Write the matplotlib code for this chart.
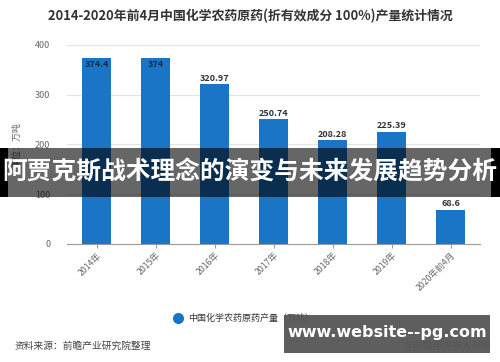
import matplotlib.pyplot as plt
from matplotlib.patches import Rectangle

plt.rcParams['font.family'] = ['Noto Sans CJK SC', 'DejaVu Sans']

years = ['2014年', '2015年', '2016年', '2017年', '2018年', '2019年', '2020年前4月']
output = [374.4, 374, 320.97, 250.74, 208.28, 225.39, 68.6]
labels = ['374.4', '374', '320.97', '250.74', '208.28', '225.39', '68.6']
yticks = [0, 100, 200, 300, 400]

title = '2014-2020年前4月中国化学农药原药(折有效成分 100%)产量统计情况'
series_name = '中国化学农药原药产量（万吨）'
unit = '单位：万吨'
source = '资料来源：前瞻产业研究院整理'
credit = '@前瞻经济学人APP'
banner = '阿贾克斯战术理念的演变与未来发展趋势分析'
site = 'www.website--pg.com'

blue = '#1b75c6'
grey = '#666666'

fig = plt.figure(figsize=(5, 3.62), dpi=100)
ax = fig.add_axes([0.134, 0.326, 0.826, 0.55])

x = list(range(len(years)))
ax.bar(x, output, width=0.48, color=blue, zorder=2)
for i, (v, t) in enumerate(zip(output, labels)):
    if v > 360:
        ax.text(i, v - 4, t, ha='center', va='top', fontsize=6.5, color='#1e2a38',
                fontweight='bold', zorder=3)
    else:
        ax.text(i, v + 3, t, ha='center', va='bottom', fontsize=6.5, color='#333333',
                fontweight='bold', zorder=3)

ax.set_xlim(-0.5, len(years) - 0.5)
ax.set_ylim(0, 400)
ax.set_yticks(yticks)
ax.set_yticklabels([str(t) for t in yticks], fontsize=6.5, color=grey)
ax.set_xticks(x)
ax.set_xticklabels(years, rotation=45, ha='right', rotation_mode='anchor',
                   fontsize=6.3, color=grey)
ax.tick_params(axis='y', length=0, pad=12)
ax.tick_params(axis='x', length=3, color='#999999', pad=2)
ax.grid(axis='y', color='#e3e3e3', linewidth=0.8, zorder=0)
for s in ['top', 'right', 'left']:
    ax.spines[s].set_visible(False)
ax.spines['bottom'].set_color('#999999')
ax.spines['bottom'].set_linewidth(0.8)
ax.set_ylabel(unit, fontsize=6.5, color=grey, labelpad=10)

fig.text(0.5, 0.955, title, ha='center', va='center', fontsize=9.3,
         fontweight='bold', color='#333333')

# legend
fig.lines.append(plt.Line2D([0.356], [0.122], marker='o', markersize=7,
                            color=blue, transform=fig.transFigure))
fig.text(0.376, 0.122, series_name, ha='left', va='center', fontsize=6.5,
         color='#333333')

fig.text(0.03, 0.045, source, ha='left', va='center', fontsize=7, color='#444444')
fig.text(0.98, 0.045, credit, ha='right', va='center', fontsize=7, color='#555555')

# overlay banner
fig.patches.append(Rectangle((0, 1 - 197 / 362), 1, 49 / 362, transform=fig.transFigure,
                             facecolor='black', alpha=0.6, zorder=10))
fig.patches.append(Rectangle((0, 1 - 197 / 362), 0.016, 49 / 362, transform=fig.transFigure,
                             facecolor='black', zorder=10))
fig.patches.append(Rectangle((0.982, 1 - 197 / 362), 0.018, 49 / 362, transform=fig.transFigure,
                             facecolor='black', zorder=10))
fig.text(0.5, 1 - 172 / 362, banner, ha='center', va='center', fontsize=17.8,
         fontweight='bold', color='white', zorder=11)

# site box
fig.patches.append(Rectangle((0.568, 1 - 353 / 362), 0.412, 38 / 362, transform=fig.transFigure,
                             facecolor='#555555', alpha=0.95, zorder=10))
fig.text(0.774, 1 - 332 / 362, site, ha='center', va='center', fontsize=11.5,
         fontweight='bold', color='white', family='DejaVu Sans', zorder=11)

fig.savefig('out.png', dpi=100)
